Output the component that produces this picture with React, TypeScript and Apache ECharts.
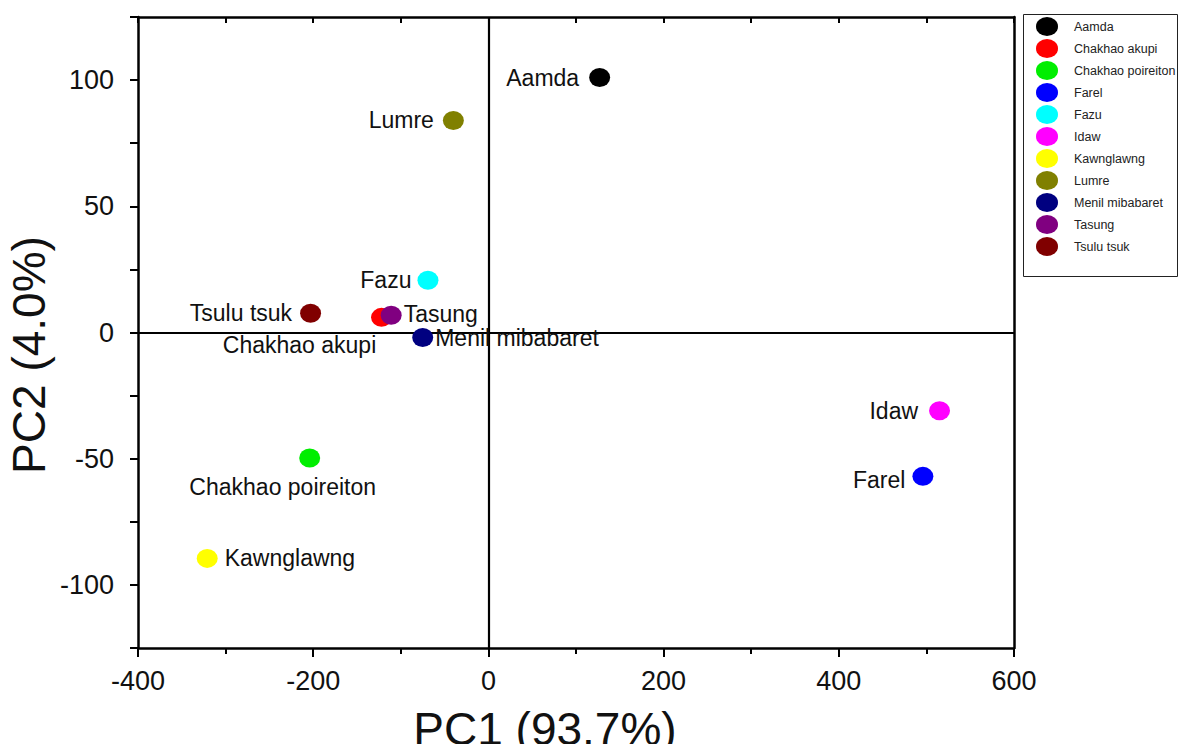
import React, { useEffect, useRef } from "react";
import * as echarts from "echarts";

const names = [
  "Aamda",
  "Chakhao akupi",
  "Chakhao poireiton",
  "Farel",
  "Fazu",
  "Idaw",
  "Kawnglawng",
  "Lumre",
  "Menil mibabaret",
  "Tasung",
  "Tsulu tsuk",
];
const pc1 = [127, -122, -204, 496, -69, 515, -321, -40, -75, -111, -203];
const pc2 = [101, 6, -49.7, -57, 20.7, -31, -89.5, 84, -2, 6.8, 7.6];
const colors = [
  "#000000",
  "#ff0000",
  "#00ee00",
  "#0000ff",
  "#00ffff",
  "#ff00ff",
  "#ffff00",
  "#808000",
  "#000080",
  "#800080",
  "#800000",
];
const xTicks = [-400, -200, 0, 200, 400, 600];
const yTicks = [-100, -50, 0, 50, 100];

// label placement (style only)
const labelPlace: Record<string, any> = {
  Aamda: { position: "left", distance: 10 },
  "Chakhao akupi": { position: "inside", offset: [-82, 28] },
  "Chakhao poireiton": { position: "inside", offset: [-27, 29] },
  Farel: { position: "left", distance: 7, offset: [0, 4] },
  Fazu: { position: "left", distance: 6 },
  Idaw: { position: "left", distance: 11 },
  Kawnglawng: { position: "right", distance: 7 },
  Lumre: { position: "left", distance: 9 },
  "Menil mibabaret": { position: "right", distance: 2 },
  Tasung: { position: "right", distance: 2, offset: [0, -1] },
  "Tsulu tsuk": { position: "left", distance: 8 },
};

const FONT = "'Liberation Sans', Arial, sans-serif";
const ELLIPSE = "path://M50,0A50,50 0 1,1 50,100A50,50 0 1,1 50,0Z";

export default function App() {
  const ref = useRef<HTMLDivElement>(null);
  useEffect(() => {
    if (!ref.current) return;
    const chart = echarts.init(ref.current, undefined, { renderer: "svg" });
    const series: any[] = names.map((n, i) => ({
      type: "scatter",
      name: n,
      xAxisIndex: 0,
      yAxisIndex: 0,
      symbol: ELLIPSE,
      symbolSize: [21, 19],
      itemStyle: { color: colors[i], opacity: 1 },
      data: [[pc1[i], pc2[i]]],
      label: {
        show: true,
        formatter: n,
        fontFamily: FONT,
        fontSize: 23,
        color: "#111",
        ...labelPlace[n],
      },
      emphasis: { disabled: true },
      z: 3 + i,
    }));
    series[0].markLine = {
      silent: true,
      symbol: ["none", "none"],
      label: { show: false },
      lineStyle: { color: "#000", width: 2.2, type: "solid", opacity: 1 },
      data: [{ xAxis: 0 }, { yAxis: 0 }],
      z: 1,
    };
    chart.setOption({
      animation: false,
      grid: { left: 138, top: 17, right: 165, bottom: 96, containLabel: false },
      legend: {
        data: names,
        orient: "vertical",
        left: 1036,
        top: 17,
        padding: 0,
        itemWidth: 22,
        itemHeight: 19,
        itemGap: 3,
        icon: ELLIPSE,
        symbolKeepAspect: false,
        selectedMode: false,
        textStyle: { fontFamily: FONT, fontSize: 12.5, color: "#222", padding: [0, 0, 0, 11] },
      },
      xAxis: [
        {
          type: "value",
          position: "bottom",
          min: -400,
          max: 600,
          interval: 200,
          axisLine: { show: true, onZero: false, lineStyle: { color: "#000", width: 2.5 } },
          axisTick: { show: true, inside: false, length: 9, lineStyle: { color: "#000", width: 2 } },
          minorTick: { show: true, splitNumber: 2, length: 6, lineStyle: { color: "#000", width: 2 } },
          splitLine: { show: false },
          axisLabel: {
            fontFamily: FONT,
            fontSize: 27,
            color: "#111",
            margin: 19,
            formatter: (v: number) => (xTicks.includes(v) ? String(v) : ""),
          },
        },
        {
          type: "value",
          position: "top",
          min: -400,
          max: 600,
          interval: 100,
          axisLine: { show: true, onZero: false, lineStyle: { color: "#000", width: 2.5 } },
          axisTick: { show: true, inside: true, length: 6, lineStyle: { color: "#000", width: 2 } },
          splitLine: { show: false },
          axisLabel: { show: false },
        },
      ],
      yAxis: [
        {
          type: "value",
          position: "left",
          min: -125,
          max: 125,
          interval: 25,
          axisLine: { show: true, onZero: false, lineStyle: { color: "#000", width: 2.5 } },
          axisTick: { show: true, inside: false, length: 8, lineStyle: { color: "#000", width: 2 } },
          splitLine: { show: false },
          axisLabel: {
            fontFamily: FONT,
            fontSize: 27,
            color: "#111",
            margin: 24,
            formatter: (v: number) => (yTicks.includes(v) ? String(v) : ""),
          },
        },
        {
          type: "value",
          position: "right",
          min: -125,
          max: 125,
          interval: 25,
          axisLine: { show: true, onZero: false, lineStyle: { color: "#000", width: 2.5 } },
          axisTick: { show: false },
          splitLine: { show: false },
          axisLabel: { show: false },
        },
      ],
      graphic: [
        {
          type: "rect",
          shape: { x: 1023.5, y: 14.5, width: 154, height: 262 },
          style: { fill: "none", stroke: "#222", lineWidth: 1 },
          silent: true,
        },
        {
          type: "text",
          x: 545,
          y: 729,
          style: {
            text: "PC1 (93.7%)",
            fontFamily: FONT,
            fontSize: 46,
            fill: "#111",
            textAlign: "center",
            textVerticalAlign: "middle",
          },
        },
        {
          type: "text",
          x: 29,
          y: 355,
          rotation: Math.PI / 2,
          style: {
            text: "PC2 (4.0%)",
            fontFamily: FONT,
            fontSize: 46,
            fill: "#111",
            textAlign: "center",
            textVerticalAlign: "middle",
          },
        },
      ],
      series,
    });
    return () => chart.dispose();
  }, []);
  return <div ref={ref} style={{ width: 1179, height: 744, position: "absolute", left: 0, top: 0 }} />;
}
